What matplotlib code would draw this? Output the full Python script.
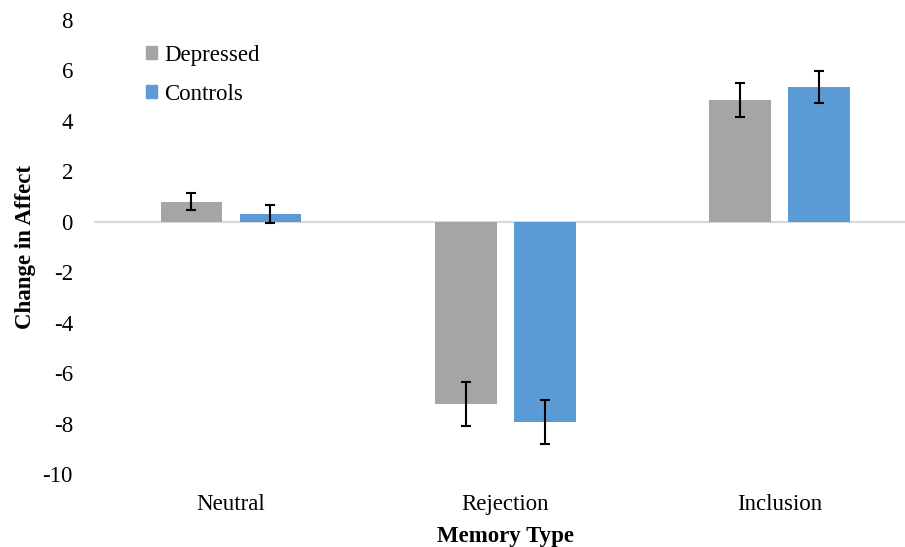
import numpy as np
import matplotlib
matplotlib.use("Agg")
import matplotlib.pyplot as plt
from matplotlib.patches import Patch

# Data
categories = ["Neutral", "Rejection", "Inclusion"]
depressed = [0.79, -7.22, 4.82]
depressed_err = [0.34, 0.89, 0.68]
controls = [0.30, -7.92, 5.33]
controls_err = [0.37, 0.87, 0.64]
yticks = [-10, -8, -6, -4, -2, 0, 2, 4, 6, 8]

color_dep = "#A5A5A5"
color_ctl = "#5B9BD5"

plt.rcParams["font.family"] = ["Liberation Serif", "DejaVu Serif"]
fontsize = 16.5

fig = plt.figure(figsize=(9.05, 5.47), dpi=100)
ax = fig.add_axes([0.1036, 0.1331, 0.9097, 0.831])

x = np.arange(len(categories))
width = 0.225
offset = 0.144

ax.bar(x - offset, depressed, width, color=color_dep, zorder=2)
ax.bar(x + offset, controls, width, color=color_ctl, zorder=2)
ax.errorbar(x - offset, depressed, yerr=depressed_err, fmt="none",
            ecolor="black", elinewidth=1.5, capsize=3.5, capthick=1.5, zorder=3)
ax.errorbar(x + offset, controls, yerr=controls_err, fmt="none",
            ecolor="black", elinewidth=1.5, capsize=3.5, capthick=1.5, zorder=3)

ax.axhline(0, color="#D9D9D9", linewidth=1.5, zorder=1)

ax.set_xlim(-0.5, 2.5)
ax.set_ylim(-10, 8)
ax.set_yticks(yticks)
ax.set_yticklabels([str(t) for t in yticks], fontsize=fontsize)
ax.set_xticks(x)
ax.set_xticklabels(categories, fontsize=fontsize)
ax.tick_params(axis="both", length=0)
ax.tick_params(axis="y", pad=15)
ax.tick_params(axis="x", pad=14)

for s in ax.spines.values():
    s.set_visible(False)

ax.set_xlabel("Memory Type", fontsize=fontsize, fontweight="bold")
ax.xaxis.set_label_coords(0.5, -0.114)
ax.set_ylabel("Change in Affect", fontsize=fontsize, fontweight="bold")
ax.yaxis.set_label_coords(-0.070, 0.5)

handles = [Patch(color=color_dep, label="Depressed"),
           Patch(color=color_ctl, label="Controls")]
ax.legend(handles=handles, loc="upper left", bbox_to_anchor=(0.0635, 0.945),
          frameon=False, fontsize=fontsize, handlelength=0.5, handleheight=0.5,
          handletextpad=0.3, labelspacing=0.78, borderpad=0, borderaxespad=0)

fig.savefig("out.png", dpi=100)
